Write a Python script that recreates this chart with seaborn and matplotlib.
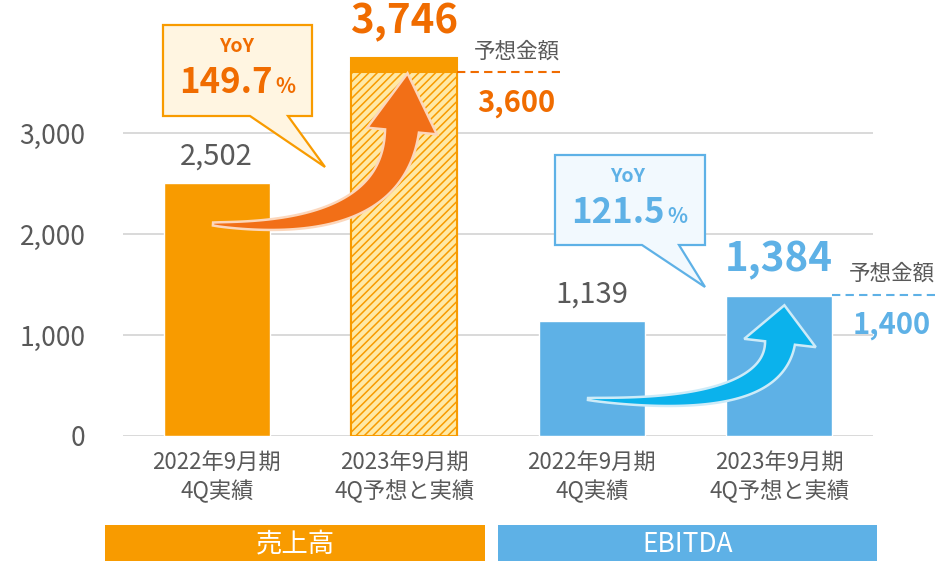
import numpy as np
import pandas as pd
import matplotlib.pyplot as plt
import seaborn as sns
from matplotlib.patches import Polygon, Rectangle

# データ
keys = ["s22", "s23", "e22", "e23"]
tick_labels = ["2022年9月期\n4Q実績", "2023年9月期\n4Q予想と実績",
               "2022年9月期\n4Q実績", "2023年9月期\n4Q予想と実績"]
groups = ["売上高", "売上高", "EBITDA", "EBITDA"]
actual = [2502, 3746, 1139, 1384]
forecast = [None, 3600, None, 1400]
yoy_sales = "149.7"
yoy_ebitda = "121.5"
yticks = [0, 1000, 2000, 3000]

ORANGE = "#F89B00"
ORANGE_TXT = "#F06C00"
BLUE = "#5EB1E6"
GRAY = "#595959"

df = pd.DataFrame({"key": keys, "value": actual, "group": groups})
palette = {k: (ORANGE if g == "売上高" else BLUE) for k, g in zip(keys, groups)}

sns.set_style("white")
plt.rcParams["font.family"] = ["Noto Sans CJK JP", "DejaVu Sans"]
plt.rcParams["hatch.linewidth"] = 1.1

W, H = 937, 561
fig = plt.figure(figsize=(W / 100, H / 100), dpi=100)
ax = fig.add_axes([123 / W, (H - 436) / H, 750 / W, 434.3 / H])

sns.barplot(data=df, x="key", y="value", hue="key", palette=palette,
            width=0.565, saturation=1, legend=False, ax=ax, zorder=2)

ax.set_ylim(0, 4300)
ax.set_xlim(-0.5, 3.5)
ax.set_yticks(yticks)
ax.set_yticklabels([f"{v:,}" for v in yticks])
ax.set_xticks(range(len(keys)))
ax.set_xticklabels(tick_labels)
for lbl in ax.get_xticklabels():
    lbl.set_linespacing(1.3)
ax.tick_params(axis="y", length=0, pad=27, labelsize=19, labelcolor=GRAY)
ax.tick_params(axis="x", length=0, pad=11, labelsize=16, labelcolor=GRAY)
ax.set_xlabel("")
ax.set_ylabel("")
ax.yaxis.grid(True, color="#D9D9D9", lw=1.4)
ax.set_axisbelow(True)
sns.despine(ax=ax, left=True, bottom=True)

bars = ax.patches[:len(keys)]

# 予想部分(売上高)はハッチング
b = bars[1]
b.set_edgecolor(ORANGE)
b.set_linewidth(1.5)
ax.add_patch(Rectangle((b.get_x(), 0), b.get_width(), forecast[1],
                       facecolor="#FFE9A6", edgecolor=ORANGE, hatch="////",
                       lw=1.5, zorder=3))

# 値ラベル
for i, v in enumerate(actual):
    if i in (0, 2):
        ax.annotate(f"{v:,}", xy=(i, v), xytext=(0, 19), textcoords="offset points",
                    ha="center", va="center", fontsize=21, color=GRAY)
    else:
        col = ORANGE_TXT if groups[i] == "売上高" else BLUE
        ax.annotate(f"{v:,}", xy=(i, v), xytext=(0, 26), textcoords="offset points",
                    ha="center", va="center", fontsize=29, fontweight="bold", color=col)

# 予想金額
for i, f in enumerate(forecast):
    if f is None:
        continue
    col = ORANGE_TXT if groups[i] == "売上高" else BLUE
    x0 = bars[i].get_x() + bars[i].get_width()
    ax.plot([x0, i + 0.83], [f, f], ls=(0, (4, 2.5)), lw=1.5, color=col, clip_on=False, zorder=4)
    ax.annotate("予想金額", xy=(i + 0.6, f), xytext=(0, 15), textcoords="offset points",
                ha="center", va="center", fontsize=15.5, color=GRAY, annotation_clip=False)
    ax.annotate(f"{f:,}", xy=(i + 0.6, f), xytext=(0, -22), textcoords="offset points",
                ha="center", va="center", fontsize=21, fontweight="bold", color=col,
                annotation_clip=False)

# オーバーレイ(吹き出し・矢印・グループ帯)
ov = fig.add_axes([0, 0, 1, 1], zorder=5)
ov.set_xlim(0, W)
ov.set_ylim(H, 0)
ov.axis("off")
ov.patch.set_alpha(0)


def curved_arrow(p0, p1, p2, w0, w1, head_w, head_len, face, edge):
    p0, p1, p2 = map(np.array, (p0, p1, p2))
    t = np.linspace(0, 1, 60)[:, None]
    pts = (1 - t) ** 2 * p0 + 2 * (1 - t) * t * p1 + t ** 2 * p2
    d = 2 * (1 - t) * (p1 - p0) + 2 * t * (p2 - p1)
    d = d / np.linalg.norm(d, axis=1, keepdims=True)
    n = np.column_stack([-d[:, 1], d[:, 0]])
    w = (w0 + (w1 - w0) * t ** 0.8) / 2
    left = pts + n * w
    right = pts - n * w
    tip = p2 + d[-1] * head_len
    hl = p2 + n[-1] * head_w / 2
    hr = p2 - n[-1] * head_w / 2
    poly = np.vstack([left, [hl, tip, hr], right[::-1]])
    ov.add_patch(Polygon(poly, closed=True, facecolor=face, edgecolor=edge, lw=1.8))


curved_arrow((213, 224), (392, 236), (402, 131), 3, 34, 70, 58, "#F26F17", "#FCD7BC")
curved_arrow((588, 399), (772, 412), (780, 343), 2, 30, 72, 38, "#0BB2EC", "#CDEBF8")


def callout(box, tail, face, edge):
    x0, y0, x1, y1 = box
    (ta, tb, tip) = tail
    pts = [(x0, y0), (x1, y0), (x1, y1), (tb, y1), tip, (ta, y1), (x0, y1)]
    ov.add_patch(Polygon(pts, closed=True, facecolor=face, edgecolor=edge, lw=1.6))


callout((163, 25, 312, 116), (250, 288, (325, 167)), "#FFF5E1", ORANGE)
ov.text(237, 46, "YoY", ha="center", va="center", fontsize=14, fontweight="bold", color=ORANGE_TXT)
ov.text(273, 93, yoy_sales, ha="right", va="baseline", fontsize=25, fontweight="bold", color=ORANGE_TXT)
ov.text(275, 93, "%", ha="left", va="baseline", fontsize=15, fontweight="bold", color=ORANGE_TXT)

callout((555, 155, 705, 245), (642, 679, (705, 287)), "#F2F9FE", BLUE)
ov.text(628, 176, "YoY", ha="center", va="center", fontsize=14, fontweight="bold", color=BLUE)
ov.text(665, 223, yoy_ebitda, ha="right", va="baseline", fontsize=25, fontweight="bold", color=BLUE)
ov.text(667, 223, "%", ha="left", va="baseline", fontsize=15, fontweight="bold", color=BLUE)

# グループ帯
ov.add_patch(Rectangle((105, 525), 380, 36, facecolor=ORANGE, edgecolor="none"))
ov.add_patch(Rectangle((498, 525), 379, 36, facecolor=BLUE, edgecolor="none"))
ov.text(295, 544, "売上高", ha="center", va="center", fontsize=19, color="white")
ov.text(688, 544, "EBITDA", ha="center", va="center", fontsize=19, color="white")

fig.savefig("out.png", dpi=100)
